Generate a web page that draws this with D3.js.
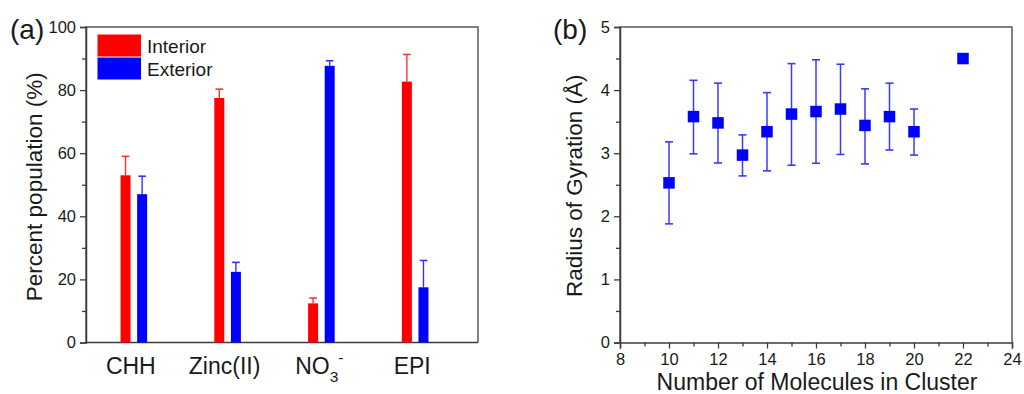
<!DOCTYPE html>
<html><head><meta charset="utf-8">
<script src="https://cdn.jsdelivr.net/npm/d3@7/dist/d3.min.js"></script>
<style>
html,body{margin:0;padding:0;background:#fff;}
svg text{font-family:"Liberation Sans",Arial,Helvetica,sans-serif;fill:#1a1a1a;}
</style></head>
<body><svg id="c" width="1024" height="394"></svg>
<script>
// ---- Panel (a) data ----
const categories = ["CHH", "Zinc(II)", "NO3-", "EPI"];
const interior = [53.0, 77.5, 12.4, 82.7];
const interiorErr = [6.0, 2.8, 1.7, 8.6];
const exterior = [47.0, 22.4, 87.7, 17.5];
const exteriorErr = [5.7, 3.0, 1.6, 8.5];
const yTicksA = [0, 20, 40, 60, 80, 100];
const seriesNames = ["Interior", "Exterior"];

// ---- Panel (b) data ----
const clusterSize = [10, 11, 12, 13, 14, 15, 16, 17, 18, 19, 20, 22];
const rg = [2.53, 3.58, 3.48, 2.97, 3.34, 3.62, 3.66, 3.70, 3.44, 3.58, 3.34, 4.50];
const rgHigh = [3.18, 4.155, 4.11, 3.29, 3.96, 4.42, 4.48, 4.41, 4.02, 4.11, 3.70, null];
const rgLow = [1.88, 2.99, 2.845, 2.64, 2.72, 2.81, 2.84, 2.98, 2.83, 3.05, 2.97, null];
const xTicksB = [8, 10, 12, 14, 16, 18, 20, 22, 24];
const yTicksB = [0, 1, 2, 3, 4, 5];

const RED = "#ff0000", BLUE = "#0000ff", AXIS = "#3c3c3c";
const svg = d3.select("#c");

function frame(g, x0, x1, y0, y1) {
  g.append("path").attr("d", `M${x0},${y1}V${y0}H${x1}V${y1}`)
    .attr("fill", "none").attr("stroke", "#5a5a5a").attr("stroke-width", 1.5);
}

// ================= Panel (a) =================
{
  const L = 86, R = 478, T = 27, B = 342.5;
  const g = svg.append("g");
  const x = d3.scaleLinear().domain([0.49, 4.67]).range([L, R]);
  const y = d3.scaleLinear().domain([0, 100]).range([B, T]);
  frame(g, L, R, T, B);
  // y axis
  const ya = g.append("g").attr("transform", `translate(${L},0)`)
    .call(d3.axisLeft(y).tickValues(yTicksA).tickSize(6).tickPadding(4).tickFormat(d3.format("d")));
  ya.select(".domain").attr("stroke", AXIS).attr("stroke-width", 1.5);
  ya.selectAll(".tick line").attr("stroke", AXIS).attr("stroke-width", 1.3);
  ya.selectAll(".tick text").attr("font-size", 16.5).attr("fill", "#1a1a1a")
    .attr("font-family", "Liberation Sans, Arial, sans-serif");
  g.append("g").attr("transform", `translate(${L},0)`)
    .call(d3.axisLeft(y).tickValues(d3.range(10, 100, 20)).tickSize(4).tickFormat(""))
    .call(s => { s.select(".domain").remove(); s.selectAll("line").attr("stroke", AXIS).attr("stroke-width", 1.3); });
  // x axis line
  g.append("line").attr("x1", L).attr("x2", R).attr("y1", B).attr("y2", B)
    .attr("stroke", AXIS).attr("stroke-width", 1.5);

  const bw = 10, off = 8.3;
  const sets = [
    {vals: interior, err: interiorErr, color: RED, ecolor: "#ff3030", dx: -off},
    {vals: exterior, err: exteriorErr, color: BLUE, ecolor: "#3030ff", dx: off}
  ];
  sets.forEach(s => {
    const gg = g.append("g");
    s.vals.forEach((v, i) => {
      const cx = x(i + 1) + s.dx;
      const top = y(v + s.err[i]);
      gg.append("line").attr("x1", cx).attr("x2", cx).attr("y1", y(v)).attr("y2", top)
        .attr("stroke", s.ecolor).attr("stroke-width", 1.4);
      gg.append("line").attr("x1", cx - 3.8).attr("x2", cx + 3.8).attr("y1", top).attr("y2", top)
        .attr("stroke", s.ecolor).attr("stroke-width", 1.6);
      gg.append("rect").attr("x", cx - bw / 2).attr("width", bw)
        .attr("y", y(v)).attr("height", y(0) - y(v)).attr("fill", s.color);
    });
  });
  // category labels
  categories.forEach((c, i) => {
    const t = g.append("text").attr("x", x(i + 1) - 3).attr("y", 373.5)
      .attr("text-anchor", "middle").attr("font-size", 23);
    if (c === "NO3-") {
      t.attr("x", x(i + 1) - 2);
      t.append("tspan").text("NO");
      t.append("tspan").attr("font-size", 15.5).attr("dy", 8).text("3");
      t.append("tspan").attr("font-size", 15.5).attr("dy", -19).text("-");
    } else t.text(c);
  });
  // legend
  const lg = g.append("g");
  [RED, BLUE].forEach((col, i) => {
    lg.append("rect").attr("x", 97.5).attr("y", 34.5 + i * 23).attr("width", 43.5).attr("height", 22)
      .attr("fill", col);
    lg.append("text").attr("x", 147).attr("y", 52.5 + i * 23).attr("font-size", 19).text(seriesNames[i]);
  });
  // titles
  g.append("text").attr("transform", `translate(41.5,${(T + B) / 2 + 2}) rotate(-90)`)
    .attr("text-anchor", "middle").attr("font-size", 22.5).text("Percent population (%)");
  g.append("text").attr("x", 10).attr("y", 39).attr("font-size", 28).text("(a)");
}

// ================= Panel (b) =================
{
  const L = 620, R = 1012, T = 27, B = 342.5;
  const g = svg.append("g");
  const x = d3.scaleLinear().domain([8, 24]).range([L, R]);
  const y = d3.scaleLinear().domain([0, 5]).range([B, T]);
  frame(g, L, R, T, B);
  const styleAxis = s => {
    s.select(".domain").attr("stroke", AXIS).attr("stroke-width", 1.5);
    s.selectAll(".tick line").attr("stroke", AXIS).attr("stroke-width", 1.3);
    s.selectAll(".tick text").attr("font-size", 16.5).attr("fill", "#1a1a1a")
      .attr("font-family", "Liberation Sans, Arial, sans-serif");
  };
  g.append("g").attr("transform", `translate(${L},0)`)
    .call(d3.axisLeft(y).tickValues(yTicksB).tickSize(6).tickPadding(4).tickFormat(d3.format("d"))).call(styleAxis);
  g.append("g").attr("transform", `translate(${L},0)`)
    .call(d3.axisLeft(y).tickValues(d3.range(0.5, 5, 1)).tickSize(4).tickFormat(""))
    .call(s => { s.select(".domain").remove(); s.selectAll("line").attr("stroke", AXIS).attr("stroke-width", 1.3); });
  g.append("g").attr("transform", `translate(0,${B})`)
    .call(d3.axisBottom(x).tickValues(xTicksB).tickSize(6).tickPadding(5).tickFormat(d3.format("d"))).call(styleAxis);
  g.append("g").attr("transform", `translate(0,${B})`)
    .call(d3.axisBottom(x).tickValues(d3.range(9, 24, 2)).tickSize(4).tickFormat(""))
    .call(s => { s.select(".domain").remove(); s.selectAll("line").attr("stroke", AXIS).attr("stroke-width", 1.3); });

  const EC = "#3a3aff";
  clusterSize.forEach((n, i) => {
    const cx = x(n);
    if (rgHigh[i] != null) {
      g.append("line").attr("x1", cx).attr("x2", cx).attr("y1", y(rgLow[i])).attr("y2", y(rgHigh[i]))
        .attr("stroke", EC).attr("stroke-width", 1.5);
      [rgLow[i], rgHigh[i]].forEach(v => {
        g.append("line").attr("x1", cx - 4).attr("x2", cx + 4).attr("y1", y(v)).attr("y2", y(v))
          .attr("stroke", EC).attr("stroke-width", 1.6);
      });
    }
  });
  const ms = 11.5;
  g.selectAll("rect.pt").data(clusterSize).join("rect").attr("class", "pt")
    .attr("x", d => x(d) - ms / 2).attr("y", (d, i) => y(rg[i]) - ms / 2)
    .attr("width", ms).attr("height", ms).attr("fill", BLUE);

  g.append("text").attr("x", 817).attr("y", 389.5).attr("text-anchor", "middle")
    .attr("font-size", 23).text("Number of Molecules in Cluster");
  g.append("text").attr("transform", `translate(581.5,${(T + B) / 2 + 1}) rotate(-90)`)
    .attr("text-anchor", "middle").attr("font-size", 22.5).text("Radius of Gyration (Å)");
  g.append("text").attr("x", 553).attr("y", 39).attr("font-size", 28).text("(b)");
}
</script></body></html>
